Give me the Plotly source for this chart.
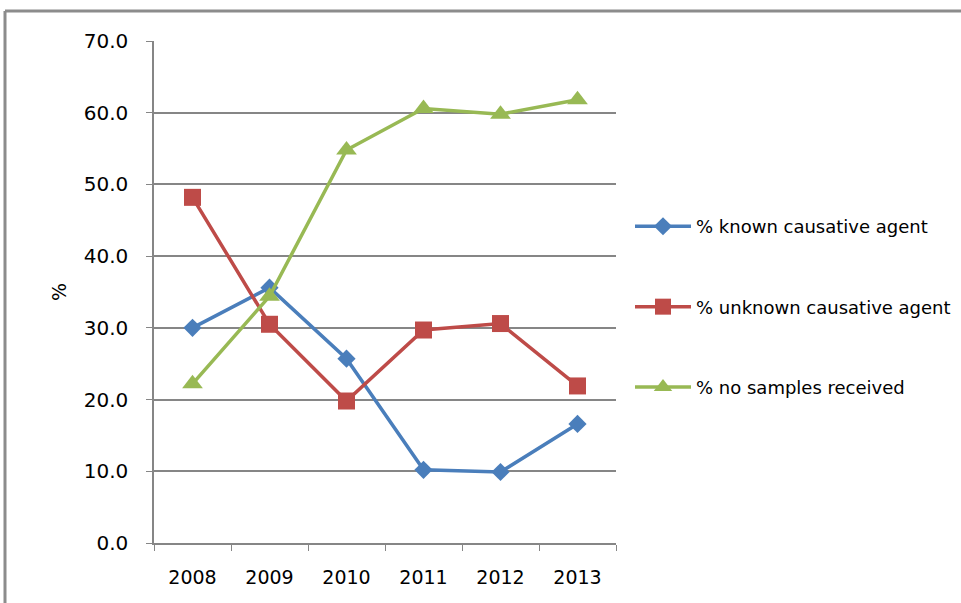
import plotly.graph_objects as go

years = ["2008", "2009", "2010", "2011", "2012", "2013"]
known = [30.0, 35.6, 25.7, 10.2, 9.9, 16.6]
unknown = [48.2, 30.5, 19.8, 29.7, 30.6, 21.9]
no_samples = [22.2, 34.4, 54.8, 60.6, 59.8, 61.8]

names = ["% known causative agent", "% unknown causative agent", "% no samples received"]
colors = ["#4A7EBB", "#BE4B48", "#98B954"]
symbols = ["diamond", "square", "triangle-up"]
sizes = [14, 17, 18]

fig = go.Figure()
for i, (vals, nm) in enumerate(zip([known, unknown, no_samples], names)):
    fig.add_trace(go.Scatter(
        x=years, y=vals, name=nm, mode="lines+markers",
        line=dict(color=colors[i], width=3.5),
        marker=dict(symbol=symbols[i], size=sizes[i], color=colors[i]),
        legendgroup=f"g{i}",
    ))

L, R, T, B = 154, 616, 41, 543
W, H = 961, 603
def px(x):
    return (x - L) / (R - L)
def py(y):
    return (B - y) / (B - T)

frame = dict(color="#8C8C8C", width=3)
fig.update_layout(
    width=W, height=H, autosize=False,
    margin=dict(l=L, r=W - R, t=T, b=H - B, autoexpand=False),
    paper_bgcolor="white", plot_bgcolor="white",
    font=dict(family="DejaVu Sans", color="#000000"),
    showlegend=True,
    legend=dict(x=px(630), y=0.47, xanchor="left", yanchor="middle",
                font=dict(size=18, family="DejaVu Sans"),
                tracegroupgap=54, traceorder="grouped", itemwidth=56,
                bgcolor="rgba(0,0,0,0)"),
    xaxis=dict(type="category", range=[-0.5, 5.5], showgrid=False,
               showline=True, linecolor="#868686", linewidth=1.5,
               ticks="outside", ticklen=6, tickcolor="#868686",
               tickson="boundaries", tickfont=dict(size=19),
               ticklabelstandoff=16),
    yaxis=dict(range=[0, 70], tickvals=[0, 10, 20, 30, 40, 50, 60, 70],
               tickformat=".1f", showgrid=True, gridcolor="#868686", gridwidth=1.5,
               showline=True, linecolor="#868686", linewidth=1.5,
               ticks="outside", ticklen=6, tickcolor="#868686",
               tickfont=dict(size=20), zeroline=False, ticklabelstandoff=14,
               title=dict(text="%", font=dict(size=19), standoff=12)),
    shapes=[
        dict(type="line", xref="paper", yref="paper",
             x0=px(5), x1=px(961), y0=py(11), y1=py(11), line=frame, layer="below"),
        dict(type="line", xref="paper", yref="paper",
             x0=px(5), x1=px(5), y0=py(11), y1=py(603), line=frame, layer="below"),
    ],
)

fig.write_html("out.html")
